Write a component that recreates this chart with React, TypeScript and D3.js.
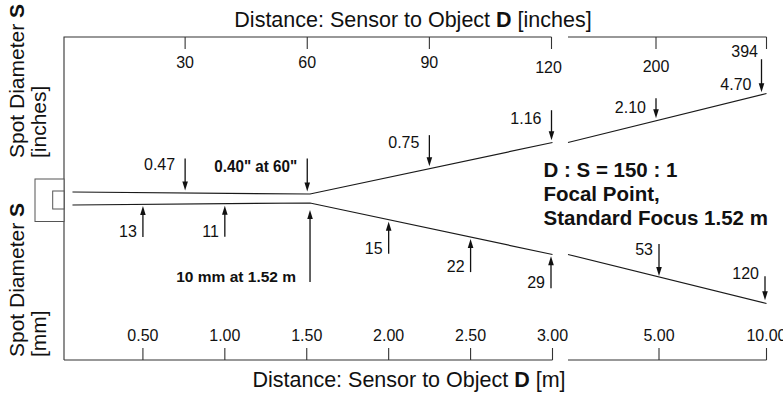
import React from "react";
import * as d3 from "d3";

// top axis (inches), near and far parts of the broken axis
const inchTicksNear = [30, 60, 90, 120];
const inchTicksFar = [200, 394];
// bottom axis (metres)
const meterTicksNear = [0.5, 1.0, 1.5, 2.0, 2.5, 3.0];
const meterTicksFar = [5, 10];

// spot diameter call-outs on the upper beam edge (inches)
const inchSpotDistances = [30, 60, 90, 120, 200, 394];
const inchSpotLabels = ["0.47", '0.40" at 60"', "0.75", "1.16", "2.10", "4.70"];

// spot diameter call-outs on the lower beam edge (mm)
const mmSpotDistances = [0.5, 1.0, 1.52, 2.0, 2.5, 3.0, 5.0, 10.0];
const mmSpotLabels = ["13", "11", "10 mm at 1.52 m", "15", "22", "29", "53", "120"];

// beam outline: distance [m] and spot diameter [mm]
const beamNearDistances = [0.07, 1.52, 3.0];
const beamNearDiameters = [14, 10, 29];
const beamFarDistances = [3.0, 10.0];
const beamFarDiameters = [29, 120];

const noteLines = ["D : S = 150 : 1", "Focal Point,", "Standard Focus 1.52 m"];

// ---- layout ----
const W = 783;
const H = 396;
const FONT = "'Liberation Sans', Arial, Helvetica, sans-serif";
const INK = "#111";
const axisTop = 37;
const axisBottom = 360;
const axisLeft = 64;
const farStart = 568;
const farEnd = 766.5;
const beamCenter = 198.5;

const xInNear = d3.scaleLinear().domain([0, 120]).range([63, 551.5]);
const xInFar = d3.scaleLinear().domain([120, 200, 394]).range([farStart, 656, farEnd]);
const xMNear = d3.scaleLinear().domain([0, 3]).range([61, 552.5]);
const xMFar = d3.scaleLinear().domain([3, 5, 10]).range([farStart, 659, farEnd]);
const xIn = (d: number) => (d <= 120 ? xInNear(d) : xInFar(d));
const xM = (d: number) => (d <= 3 ? xMNear(d) : xMFar(d));

// schematic half-width of the drawn beam for a spot diameter (not to scale in the original)
const halfWidth = d3.scaleLinear().domain([10, 14, 29, 120]).range([4.5, 6.5, 56, 105]);

const nearPts = beamNearDistances.map((d, i) => ({ x: xMNear(d), hw: halfWidth(beamNearDiameters[i]) }));
const farPts = beamFarDistances.map((d, i) => ({ x: xMFar(d), hw: halfWidth(beamFarDiameters[i]) }));
const allPts = [...nearPts, ...farPts];
const upperAt = d3.scaleLinear().domain(allPts.map(p => p.x)).range(allPts.map(p => beamCenter - p.hw));
const lowerAt = d3.scaleLinear().domain(allPts.map(p => p.x)).range(allPts.map(p => beamCenter + p.hw));

const edge = d3.line<{ x: number; y: number }>().x(p => p.x).y(p => p.y);

// per call-out arrow geometry
const inchLayout = [
  { len: 32, labelDy: 12, dx: 0 },
  { len: 33, labelDy: 14, dx: 0 },
  { len: 31, labelDy: 13, dx: 0 },
  { len: 30, labelDy: 14, dx: 0 },
  { len: 20, labelDy: 14.5, dx: 0 },
  { len: 33, labelDy: 30.5, dx: -5 },
];
const mmLayout = [
  { up: true, len: 31, gap: 1.5, labelDy: 0, dx: 0 },
  { up: true, len: 31, gap: 2, labelDy: 0, dx: 0 },
  { up: true, len: 72, gap: 7, labelDy: 0, dx: 0 },
  { up: true, len: 32, gap: 2, labelDy: 0, dx: 0 },
  { up: true, len: 33, gap: 2, labelDy: 0, dx: 0 },
  { up: true, len: 32, gap: 2, labelDy: 0, dx: -1.5 },
  { up: false, len: 32, gap: 1, labelDy: 11, dx: 0 },
  { up: false, len: 24, gap: 3, labelDy: 2.5, dx: -1.5 },
];

const Arrow = ({ x, tip, tail }: { x: number; tip: number; tail: number }) => {
  const dir = tip > tail ? 1 : -1;
  const head = 9;
  return (
    <g>
      <line x1={x} y1={tail} x2={x} y2={tip - dir * (head - 1)} stroke={INK} strokeWidth={1.3} />
      <path
        d={`M${x},${tip}L${x - 2.8},${tip - dir * head}L${x + 2.8},${tip - dir * head}Z`}
        fill={INK}
      />
    </g>
  );
};

const App = () => {
  const fmtM = d3.format(".2f");
  const axisStroke = { stroke: "#333", strokeWidth: 1.1, fill: "none" };

  const inchTickLabel = (t: number) => {
    if (t === 394) return { x: xIn(t) - 8.5, y: 56.7, anchor: "end" };
    if (t === 120) return { x: xIn(t) - 3, y: 73.3, anchor: "middle" };
    if (t === 200) return { x: xIn(t), y: 72, anchor: "middle" };
    return { x: xIn(t), y: 68.3, anchor: "middle" };
  };

  return (
    <svg
      width={W}
      height={H}
      style={{ position: "absolute", left: 0, top: 0, background: "#fff" }}
      fontFamily={FONT}
    >
      {/* axis titles */}
      <text x={413} y={26.5} fontSize={21.5} textAnchor="middle" fill={INK}>
        Distance: Sensor to Object <tspan fontWeight="bold">D</tspan> [inches]
      </text>
      <text x={409} y={386.5} fontSize={21.5} textAnchor="middle" fill={INK}>
        Distance: Sensor to Object <tspan fontWeight="bold">D</tspan> [m]
      </text>
      <g fontSize={21} fill={INK}>
        <text transform="translate(24,158) rotate(-90)">
          Spot Diameter <tspan fontWeight="bold">S</tspan>
        </text>
        <text transform="translate(46,158) rotate(-90)">[inches]</text>
        <text transform="translate(24,357) rotate(-90)">
          Spot Diameter <tspan fontWeight="bold">S</tspan>
        </text>
        <text transform="translate(46,357) rotate(-90)">[mm]</text>
      </g>

      {/* frame: left axis, broken top and bottom axes */}
      <path d={`M${axisLeft},${axisBottom}V${axisTop}H${xInNear(120)}`} {...axisStroke} />
      <path d={`M${farStart},${axisTop}H${farEnd}`} {...axisStroke} />
      <path d={`M${axisLeft},${axisBottom}H${xMNear(3)}`} {...axisStroke} />
      <path d={`M${farStart},${axisBottom}H${farEnd}`} {...axisStroke} />

      {[...inchTicksNear, ...inchTicksFar].map(t => {
        const lb = inchTickLabel(t);
        return (
          <g key={"ti" + t}>
            <line x1={xIn(t)} x2={xIn(t)} y1={axisTop} y2={axisTop + 12} {...axisStroke} />
            <text x={lb.x} y={lb.y} fontSize={16} textAnchor={lb.anchor} fill={INK}>
              {t}
            </text>
          </g>
        );
      })}
      {[...meterTicksNear, ...meterTicksFar].map(t => (
        <g key={"tm" + t}>
          <line x1={xM(t)} x2={xM(t)} y1={axisBottom} y2={axisBottom - 12} {...axisStroke} />
          <text x={xM(t)} y={340.5} fontSize={16} textAnchor="middle" fill={INK}>
            {fmtM(t)}
          </text>
        </g>
      ))}

      {/* sensor */}
      <rect x={35} y={beamCenter - 19.5} width={axisLeft - 35} height={42.5} fill="#fff" stroke="#555" strokeWidth={1} />
      <rect x={52.7} y={beamCenter - 7.5} width={axisLeft - 52.7} height={18} fill="#fff" stroke="#555" strokeWidth={1} />

      {/* beam edges */}
      <g fill="none" stroke="#1a1a1a" strokeWidth={1.2}>
        <path d={edge(nearPts.map(p => ({ x: p.x, y: beamCenter - p.hw })))!} />
        <path d={edge(nearPts.map(p => ({ x: p.x, y: beamCenter + p.hw })))!} />
        <path d={edge(farPts.map(p => ({ x: p.x, y: beamCenter - p.hw })))!} />
        <path d={edge(farPts.map(p => ({ x: p.x, y: beamCenter + p.hw })))!} />
      </g>

      {/* inch call-outs, arrows pointing down onto the upper edge */}
      {inchSpotDistances.map((d, i) => {
        const L = inchLayout[i];
        const x = xIn(d) + L.dx;
        const tip = upperAt(x) - 2.5;
        const top = tip - L.len;
        const bold = i === 1;
        return (
          <g key={"ci" + i}>
            <Arrow x={x} tip={tip} tail={top} />
            <text
              x={x - 10}
              y={top + L.labelDy}
              fontSize={bold ? 16.5 : 16}
              fontWeight={bold ? "bold" : "normal"}
              textAnchor="end"
              fill={INK}
              {...(bold ? { textLength: 83, lengthAdjust: "spacingAndGlyphs" } : {})}
            >
              {inchSpotLabels[i]}
            </text>
          </g>
        );
      })}

      {/* mm call-outs on the lower edge */}
      {mmSpotDistances.map((d, i) => {
        const L = mmLayout[i];
        const x = xM(d) + L.dx;
        const line = lowerAt(x);
        const tip = L.up ? line + L.gap : line - L.gap;
        const tail = L.up ? tip + L.len : tip - L.len;
        const bold = i === 2;
        return (
          <g key={"cm" + i}>
            <Arrow x={x} tip={tip} tail={tail} />
            <text
              x={x - (bold ? 14 : 6)}
              y={L.up ? tail : tail + L.labelDy}
              fontSize={bold ? 15.5 : 16}
              fontWeight={bold ? "bold" : "normal"}
              textAnchor="end"
              fill={INK}
            >
              {mmSpotLabels[i]}
            </text>
          </g>
        );
      })}

      {/* ratio note */}
      <g fontSize={20.5} fontWeight="bold" fill={INK}>
        {noteLines.map((s, i) => (
          <text key={s} x={543.5} y={176.5 + i * 24}>
            {s}
          </text>
        ))}
      </g>
    </svg>
  );
};

export default App;
